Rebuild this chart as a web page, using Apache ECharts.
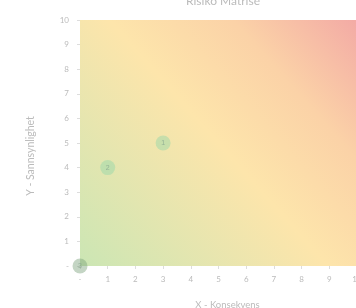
<!DOCTYPE html>
<html>
<head>
<meta charset="utf-8">
<script src="https://cdn.jsdelivr.net/npm/echarts@6/dist/echarts.min.js"></script>
<style>
  html, body { margin: 0; padding: 0; background: #fff; }
  #chart { width: 356px; height: 308px; }
</style>
</head>
<body>
<div id="chart"></div>
<script>
const riskNames = ['1', '2', '3'];
const consequence = [3, 1, 0];
const probability = [5, 4, 0];
const axisLabels = ['-', '1', '2', '3', '4', '5', '6', '7', '8', '9', '10'];

const chart = echarts.init(document.getElementById('chart'));

const points = riskNames.map((name, i) => ({
    name: name,
    value: [consequence[i], probability[i]],
    itemStyle: i === 2 ? { color: 'rgba(120,160,120,0.55)' } : undefined
}));

const option = {
    animation: false,
    title: {
        text: 'Risiko Matrise',
        left: 218,
        textAlign: 'center',
        top: -10,
        textStyle: { fontSize: 12, color: '#bbb', fontWeight: 'normal', fontFamily: 'Lato' }
    },
    grid: {
        left: 80,
        top: 20,
        width: 277,
        height: 246,
        outerBoundsMode: 'none',
        show: true,
        borderWidth: 0,
        backgroundColor: new echarts.graphic.LinearGradient(0, 1, 1, 0, [
            { offset: 0, color: '#cbe6b4' },
            { offset: 0.5, color: '#fde5ab' },
            { offset: 0.75, color: '#fbd2a7' },
            { offset: 1, color: '#f3aaa5' }
        ])
    },
    xAxis: {
        type: 'value',
        min: 0,
        max: 10,
        interval: 1,
        name: 'X - Konsekvens',
        nameLocation: 'middle',
        nameGap: 34,
        nameTextStyle: { color: '#bbb', fontSize: 9.5, fontFamily: 'Lato', padding: [0, 0, 0, 18] },
        axisLine: { show: false },
        axisTick: { show: true, length: 3, lineStyle: { color: '#ddd' } },
        splitLine: { show: false },
        axisLabel: {
            color: '#bbb', fontSize: 8, fontFamily: 'Lato', margin: 9,
            formatter: v => axisLabels[v]
        }
    },
    yAxis: {
        type: 'value',
        min: 0,
        max: 10,
        interval: 1,
        name: 'Y - Sannsynlighet',
        nameLocation: 'middle',
        nameGap: 44,
        nameTextStyle: { color: '#bbb', fontSize: 10.5, fontFamily: 'Lato', padding: [0, 26, 0, 0] },
        axisLine: { show: false },
        axisTick: { show: true, length: 3, lineStyle: { color: '#ddd' } },
        splitLine: { show: false },
        axisLabel: {
            color: '#bbb', fontSize: 8, fontFamily: 'Lato', margin: 11,
            formatter: v => axisLabels[v]
        }
    },
    series: [{
        type: 'scatter',
        symbolSize: 15,
        clip: false,
        itemStyle: { color: 'rgba(150,215,170,0.6)' },
        label: {
            show: true,
            position: 'inside',
            formatter: p => p.name,
            color: '#8aa890',
            fontSize: 7
        },
        data: points
    }]
};

chart.setOption(option);
</script>
</body>
</html>
